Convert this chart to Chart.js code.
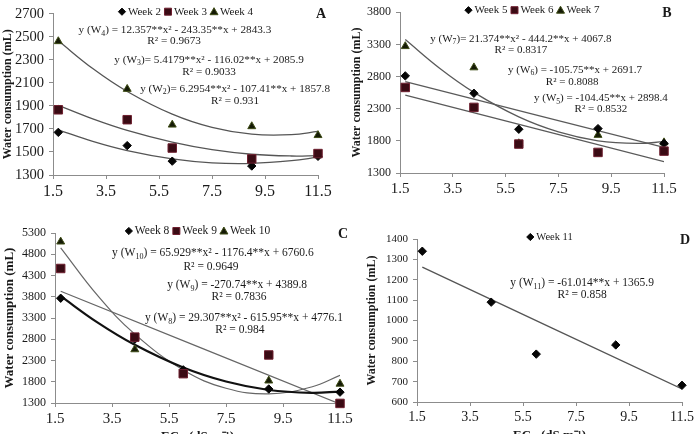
<!DOCTYPE html>
<html lang="en">
<head>
<meta charset="UTF-8">
<title>Water consumption vs ECw</title>
<script src="https://cdn.jsdelivr.net/npm/chart.js"></script>
<style>
    body {
        margin: 0;
        width: 695px;
        height: 434px;
        overflow: hidden;
        position: relative;
        background: #fff;
    }

    canvas {
        position: absolute;
    }
</style>
</head>
<body>
<canvas id="chartA" width="345" height="215" style="left:0;top:0"></canvas>
<canvas id="chartB" width="350" height="215" style="left:345px;top:0"></canvas>
<canvas id="chartC" width="360" height="232" style="left:0;top:215px"></canvas>
<canvas id="chartD" width="353" height="232" style="left:345px;top:215px"></canvas>
<script>
    // EC of irrigation water (dS m-1), same for every panel
    const ecLevels = [1.7, 4.3, 6.0, 9.0, 11.5];
    const xTicks = [1.5, 3.5, 5.5, 7.5, 9.5, 11.5];
    const curveX = [1.7, 3.0, 4.3, 6.0, 7.5, 9.0, 10.5, 11.5];
    const lineX = [1.7, 11.5];

    // panel A - weeks 2 to 4
    const ticksA = [1300, 1500, 1700, 1900, 2100, 2300, 2500, 2700];
    const week2 = [1670, 1555, 1420, 1378, 1462];
    const week3 = [1866, 1780, 1534, 1440, 1486];
    const week4 = [2460, 2046, 1736, 1722, 1645];
    const fitW2 = [1692, 1592, 1512, 1440, 1406, 1401, 1424, 1455];
    const fitW3 = [1904, 1787, 1687, 1585, 1520, 1480, 1465, 1468];
    const fitW4 = [2465, 2224, 2025, 1828, 1713, 1654, 1650, 1679];

    // panel B - weeks 5 to 7
    const ticksB = [1300, 1800, 2300, 2800, 3300, 3800];
    const week5 = [2810, 2540, 1980, 1990, 1760];
    const week6 = [2630, 2320, 1750, 1620, 1640];
    const week7 = [3270, 2940, 1760, 1890, 1775];
    const fitW5 = [2720, 1697];
    const fitW6 = [2512, 1476];
    const fitW7 = [3374, 2928, 2553, 2172, 1939, 1801, 1760, 1787];

    // panel C - weeks 8 to 10
    const ticksC = [1300, 1800, 2300, 2800, 3300, 3800, 4300, 4800, 5300];
    const week8 = [3765, 2800, 2080, 1630, 1555];
    const week9 = [4465, 2850, 1990, 2430, 1290];
    const week10 = [5095, 2560, 2040, 1825, 1750];
    const fitW8 = [3814, 3192, 2669, 2135, 1805, 1606, 1540, 1569];
    const fitW9 = [3930, 1276];
    const fitW10 = [4951, 3825, 2921, 2076, 1646, 1513, 1677, 1951];

    // panel D - week 11
    const ticksD = [600, 700, 800, 900, 1000, 1100, 1200, 1300, 1400];
    const week11 = [1340, 1090, 835, 880, 682];
    const fitW11 = [1262, 664];

    const serif = "'Liberation Serif', 'Times New Roman', serif";
    const ink = '#1a1a1a';
    const axisGrey = '#8c8c8c';

    const markers = {
        diamond: { pointStyle: 'rectRot', radius: 4.2, fill: '#050505', stroke: '#050505', order: 2 },
        square: { pointStyle: 'rect', radius: 6, fill: '#3a0b14', stroke: '#6f2030', order: 1 },
        triangle: { pointStyle: 'triangle', radius: 4.6, fill: '#151a06', stroke: '#3f4d17', order: 3 }
    };

    function weekSet(label, values, kind) {
        const m = markers[kind];
        return {
            label: label,
            kind: kind,
            data: ecLevels.map((x, i) => ({ x: x, y: values[i] })),
            showLine: false,
            clip: 10,
            pointStyle: m.pointStyle,
            pointRadius: m.radius,
            pointBackgroundColor: m.fill,
            pointBorderColor: m.stroke,
            pointBorderWidth: 1,
            order: m.order
        };
    }

    function trendSet(xs, values, color, width) {
        return {
            trend: true,
            data: xs.map((x, i) => ({ x: x, y: values[i] })),
            showLine: true,
            pointRadius: 0,
            borderColor: color,
            borderWidth: width,
            tension: 0.4,
            order: 10
        };
    }

    // small marker for the legend
    function drawMarker(ctx, kind, x, y) {
        const m = markers[kind];
        ctx.beginPath();
        if (kind === 'diamond') {
            ctx.moveTo(x, y - 3.6); ctx.lineTo(x + 3.6, y); ctx.lineTo(x, y + 3.6); ctx.lineTo(x - 3.6, y);
        } else if (kind === 'square') {
            ctx.rect(x - 3.5, y - 3.5, 7, 7);
        } else {
            ctx.moveTo(x, y - 4); ctx.lineTo(x + 4, y + 3); ctx.lineTo(x - 4, y + 3);
        }
        ctx.closePath();
        ctx.fillStyle = m.fill;
        ctx.strokeStyle = m.stroke;
        ctx.lineWidth = 1;
        ctx.fill();
        ctx.stroke();
    }

    // text with _{..} subscripts, centred on cx
    function drawRich(ctx, str, cx, cy, size, weight) {
        const parts = [];
        const re = /_\{([^}]*)\}/g;
        let last = 0, m;
        while ((m = re.exec(str))) {
            if (m.index > last) parts.push({ t: str.slice(last, m.index) });
            parts.push({ t: m[1], sub: true });
            last = re.lastIndex;
        }
        if (last < str.length) parts.push({ t: str.slice(last) });
        const fontFor = p => (weight || 'normal') + ' ' + (p.sub ? size * 0.7 : size) + 'px ' + serif;
        let total = 0;
        parts.forEach(p => { ctx.font = fontFor(p); p.w = ctx.measureText(p.t).width; total += p.w; });
        let x = cx - total / 2;
        ctx.textAlign = 'left';
        ctx.textBaseline = 'middle';
        parts.forEach(p => {
            ctx.font = fontFor(p);
            ctx.fillText(p.t, x, cy + (p.sub ? size * 0.3 : 0));
            x += p.w;
        });
    }

    const notesPlugin = {
        id: 'notes',
        afterDatasetsDraw(chart, args, opts) {
            const ctx = chart.ctx;
            const area = chart.chartArea;
            const xs = chart.scales.x, ys = chart.scales.y;
            ctx.save();
            ctx.fillStyle = ink;

            // regression equations
            opts.equations.forEach(e => {
                ctx.fillStyle = ink;
                drawRich(ctx, e.text, xs.getPixelForValue(e.x), ys.getPixelForValue(e.y), opts.eqSize);
            });

            // legend
            const items = chart.data.datasets.filter(d => !d.trend);
            ctx.font = opts.legendSize + 'px ' + serif;
            const widths = items.map(d => ctx.measureText(d.label).width);
            const mark = 8, gapIn = 2, gapOut = 3;
            const total = widths.reduce((s, w) => s + mark + gapIn + w, 0) + gapOut * (items.length - 1);
            let lx = (area.left + area.right) / 2 - total / 2;
            const ly = area.top - 2;
            items.forEach((d, i) => {
                drawMarker(ctx, d.kind, lx + mark / 2, ly);
                ctx.fillStyle = ink;
                ctx.font = opts.legendSize + 'px ' + serif;
                ctx.textAlign = 'left';
                ctx.textBaseline = 'middle';
                ctx.fillText(d.label, lx + mark + gapIn, ly);
                lx += mark + gapIn + widths[i] + gapOut;
            });

            // panel letter
            ctx.fillStyle = ink;
            ctx.font = 'bold 14px ' + serif;
            ctx.textAlign = 'center';
            ctx.fillText(opts.letter, area.right + 3, area.top + 1);

            // x axis title (only under the bottom panels)
            if (opts.xTitle) {
                drawRich(ctx, opts.xTitle, (area.left + area.right) / 2, area.bottom + 34, 13, 'bold');
            }
            ctx.restore();
        }
    };

    function buildPanel(canvasId, cfg) {
        return new Chart(document.getElementById(canvasId), {
            type: 'scatter',
            data: { datasets: cfg.datasets },
            options: {
                responsive: false,
                animation: false,
                devicePixelRatio: 1,
                layout: { padding: cfg.padding },
                plugins: {
                    legend: { display: false },
                    tooltip: { enabled: false },
                    notes: {
                        equations: cfg.equations,
                        eqSize: cfg.eqSize,
                        legendSize: cfg.legendSize,
                        letter: cfg.letter,
                        xTitle: cfg.xTitle
                    }
                },
                scales: {
                    x: {
                        type: 'linear',
                        min: 1.5,
                        max: 11.5,
                        afterBuildTicks: s => { s.ticks = xTicks.map(v => ({ value: v })); },
                        afterFit: s => { s.height = cfg.xHeight; },
                        ticks: {
                            autoSkip: false,
                            maxRotation: 0,
                            padding: 3,
                            color: ink,
                            font: { family: serif, size: cfg.xFont },
                            callback: v => v.toFixed(1)
                        },
                        grid: { drawOnChartArea: false, drawTicks: true, tickLength: 4, color: axisGrey },
                        border: { display: true, color: axisGrey }
                    },
                    y: {
                        min: cfg.yTicks[0],
                        max: cfg.yTicks[cfg.yTicks.length - 1],
                        afterBuildTicks: s => { s.ticks = cfg.yTicks.map(v => ({ value: v })); },
                        afterFit: s => { s.width = cfg.yWidth; },
                        ticks: {
                            autoSkip: false,
                            padding: 5,
                            color: ink,
                            font: { family: serif, size: cfg.yFont },
                            callback: v => String(v)
                        },
                        title: {
                            display: true,
                            text: 'Water consumption (mL)',
                            color: ink,
                            padding: 0,
                            font: { family: serif, size: cfg.titleSize, weight: 'bold' }
                        },
                        grid: { drawOnChartArea: false, drawTicks: true, tickLength: 4, color: axisGrey },
                        border: { display: true, color: axisGrey }
                    }
                }
            },
            plugins: [notesPlugin]
        });
    }

    buildPanel('chartA', {
        letter: 'A',
        padding: { left: 1, right: 27, top: 10, bottom: 0 },
        yWidth: 52, xHeight: 40, xFont: 16, yFont: 14.5, titleSize: 12, eqSize: 11.2, legendSize: 11,
        yTicks: ticksA,
        datasets: [
            weekSet('Week 2', week2, 'diamond'),
            weekSet('Week 3', week3, 'square'),
            weekSet('Week 4', week4, 'triangle'),
            trendSet(curveX, fitW2, '#555', 1.3),
            trendSet(curveX, fitW3, '#555', 1.3),
            trendSet(curveX, fitW4, '#555', 1.3)
        ],
        equations: [
            { text: 'y (W_{4}) = 12.357**x² - 243.35**x + 2843.3', x: 6.1, y: 2556 },
            { text: 'R² = 0.9673', x: 6.07, y: 2462 },
            { text: 'y (W_{3})= 5.4179**x² - 116.02**x + 2085.9', x: 7.39, y: 2301 },
            { text: 'R² = 0.9033', x: 7.39, y: 2191 },
            { text: 'y (W_{2})= 6.2954**x² - 107.41**x + 1857.8', x: 8.37, y: 2047 },
            { text: 'R² = 0.931', x: 8.37, y: 1945 }
        ]
    });

    buildPanel('chartB', {
        letter: 'B',
        padding: { left: 5, right: 31, top: 9, bottom: 0 },
        yWidth: 50, xHeight: 42, xFont: 15, yFont: 12, titleSize: 12, eqSize: 11, legendSize: 11,
        yTicks: ticksB,
        datasets: [
            weekSet('Week 5', week5, 'diamond'),
            weekSet('Week 6', week6, 'square'),
            weekSet('Week 7', week7, 'triangle'),
            trendSet(lineX, fitW5, '#5a5a5a', 1.3),
            trendSet(lineX, fitW6, '#5a5a5a', 1.3),
            trendSet(curveX, fitW7, '#5a5a5a', 1.3)
        ],
        equations: [
            { text: 'y (W_{7})= 21.374**x² - 444.2**x + 4067.8', x: 6.08, y: 3388 },
            { text: 'R² = 0.8317', x: 6.08, y: 3205 },
            { text: 'y (W_{6}) = -105.75**x + 2691.7', x: 8.13, y: 2900 },
            { text: 'R² = 0.8088', x: 8.02, y: 2717 },
            { text: 'y (W_{5}) = -104.45**x + 2898.4', x: 9.11, y: 2458 },
            { text: 'R² = 0.8532', x: 9.11, y: 2291 }
        ]
    });

    buildPanel('chartC', {
        letter: 'C',
        padding: { left: 2, right: 20, top: 18, bottom: 0 },
        yWidth: 53, xHeight: 44, xFont: 15, yFont: 12, titleSize: 13, eqSize: 11.5, legendSize: 11.5,
        yTicks: ticksC,
        xTitle: 'EC_{w} (dS m⁻¹)',
        datasets: [
            weekSet('Week 8', week8, 'diamond'),
            weekSet('Week 9', week9, 'square'),
            weekSet('Week 10', week10, 'triangle'),
            trendSet(curveX, fitW8, '#111', 2.2),
            trendSet(lineX, fitW9, '#666', 1.2),
            trendSet(curveX, fitW10, '#666', 1.2)
        ],
        equations: [
            { text: 'y (W_{10}) = 65.929**x² - 1176.4**x + 6760.6', x: 7.04, y: 4830 },
            { text: 'R² = 0.9649', x: 6.97, y: 4500 },
            { text: 'y (W_{9}) = -270.74**x + 4389.8', x: 7.89, y: 4077 },
            { text: 'R² = 0.7836', x: 7.96, y: 3794 },
            { text: 'y (W_{8}) = 29.307**x² - 615.95**x + 4776.1', x: 8.13, y: 3300 },
            { text: 'R² = 0.984', x: 7.99, y: 3018 }
        ]
    });

    buildPanel('chartD', {
        letter: 'D',
        padding: { left: 20, right: 16, top: 24, bottom: 0 },
        yWidth: 52, xHeight: 45, xFont: 14, yFont: 11, titleSize: 12, eqSize: 11.5, legendSize: 10.5,
        yTicks: ticksD,
        xTitle: 'EC_{w} (dS m⁻¹)',
        datasets: [
            weekSet('Week 11', week11, 'diamond'),
            trendSet(lineX, fitW11, '#555', 1.3)
        ],
        equations: [
            { text: 'y (W_{11}) = -61.014**x + 1365.9', x: 7.73, y: 1184 },
            { text: 'R² = 0.858', x: 7.73, y: 1125 }
        ]
    });
</script>
</body>
</html>
